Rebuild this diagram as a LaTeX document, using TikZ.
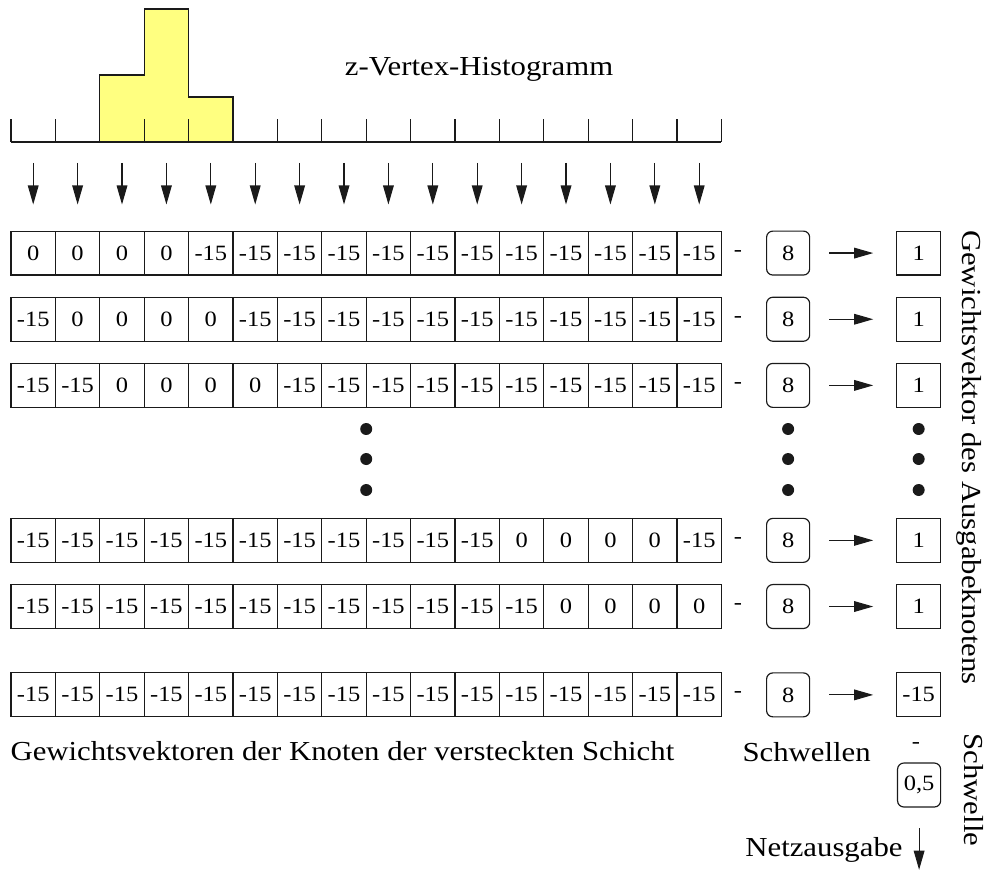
\documentclass[tikz,border=0pt]{standalone}
\usepackage{fontspec}
\setmainfont{Liberation Serif}[FakeStretch=1.12]
\usepackage{xcolor}
\definecolor{cLine}{HTML}{1A1A1A}
\definecolor{cHist}{HTML}{FFFF80}
\usepackage{tikz}
\usetikzlibrary{positioning,arrows.meta}
\newcommand{\fontCell}{\fontsize{14pt}{16pt}\selectfont}
\newcommand{\fontLabel}{\fontsize{17.6pt}{20pt}\selectfont}
\tikzset{
  node-cell/.style={draw=cLine,minimum width=1cm,minimum height=0.99cm,
    inner sep=0pt,font=\fontCell},
  node-thr/.style={node-cell,rounded corners=4pt,minimum width=0.97cm},
  node-out/.style={node-cell},
  node-sign/.style={inner sep=0pt,font=\fontCell},
  node-label/.style={inner sep=0pt,font=\fontLabel},
  arrow/.style={-{Triangle[length=4.3mm,width=2.4mm]},line width=0.75pt,draw=cLine},
  hist-bar/.style={draw=cLine,fill=cHist,line width=0.75pt},
}

\begin{document}
\begin{tikzpicture}[line width=0.75pt]
  \useasboundingbox (0,0) rectangle (22.387,-19.617);
  % histogram
  \filldraw[hist-bar] (2.248,-3.198) -- (2.248,-1.69) -- (3.248,-1.69) -- (3.248,-0.203)
    -- (4.248,-0.203) -- (4.248,-2.185) -- (5.248,-2.185) -- (5.248,-3.198) -- cycle;
  \draw[cLine] (0.248,-3.198) -- (16.248,-3.198);
  \foreach \k in {0,...,16}
    \draw[cLine] (0.248+\k,-3.198) -- ++(0,0.518);
  \node[node-label,anchor=base] (title) at (10.79,-1.71) {z-Vertex-Histogramm};
  % weight rows: zero block starts at cell \s
  \foreach \r/\y/\s in {1/5.70/1,2/7.19/2,3/8.68/3,4/12.17/12,5/13.66/13,6/15.65/0}{
    \foreach \c in {1,...,16}{
      \pgfmathtruncatemacro{\z}{(\s>0)&&(\c>=\s)&&(\c<=\s+3)}
      \node[node-cell] (c-\r-\c) at (\c-0.252,-\y) {\ifnum\z=1 0\else -15\fi};
    }
    \node[node-sign] (m-\r) at (16.62,-\y) {-};
    \node[node-thr] (t-\r) at (17.75,-\y) {8};
    \node[node-out] (o-\r) at (20.69,-\y) {\ifnum\r=6 -15\else 1\fi};
    \draw[arrow,shorten <=4.3mm,shorten >=5.1mm] (t-\r) -- (o-\r);
  }
  % histogram bins to first row
  \foreach \k in {1,...,16}{
    \coordinate (b-\k) at (\k-0.252,-3.198);
    \draw[arrow,shorten <=4.7mm,shorten >=5.85mm] (b-\k) -- (c-1-\k);
  }
  % dots
  \foreach \x in {8.248,17.75,20.69}
    \foreach \y in {9.662,10.338,11.036}
      \fill[cLine] (\x,-\y) circle (0.135);
  % output threshold
  \node[node-sign] (m-7) at (20.63,-16.8) {-};
  \node[node-thr] (t-7) at (20.70,-17.68) {0,5};
  \coordinate (net) at (20.70,-19.59);
  \draw[arrow,shorten <=4.7mm] (t-7) -- (net);
  \node[node-label,anchor=base east] (lbl-net) at (20.34,-19.30) {Netzausgabe};
  % labels
  \node[node-label,anchor=base west] (lbl-hid) at (0.225,-17.12)
    {Gewichtsvektoren der Knoten der versteckten Schicht};
  \node[node-label,anchor=base west] (lbl-thrs) at (16.71,-17.14) {Schwellen};
  \node[node-label,rotate=-90,anchor=base] (lbl-vec) at (21.68,-10.3)
    {Gewichtsvektor des Ausgabeknotens};
  \node[node-label,rotate=-90,anchor=base] (lbl-sw) at (21.72,-17.79) {Schwelle};
\end{tikzpicture}
\end{document}
